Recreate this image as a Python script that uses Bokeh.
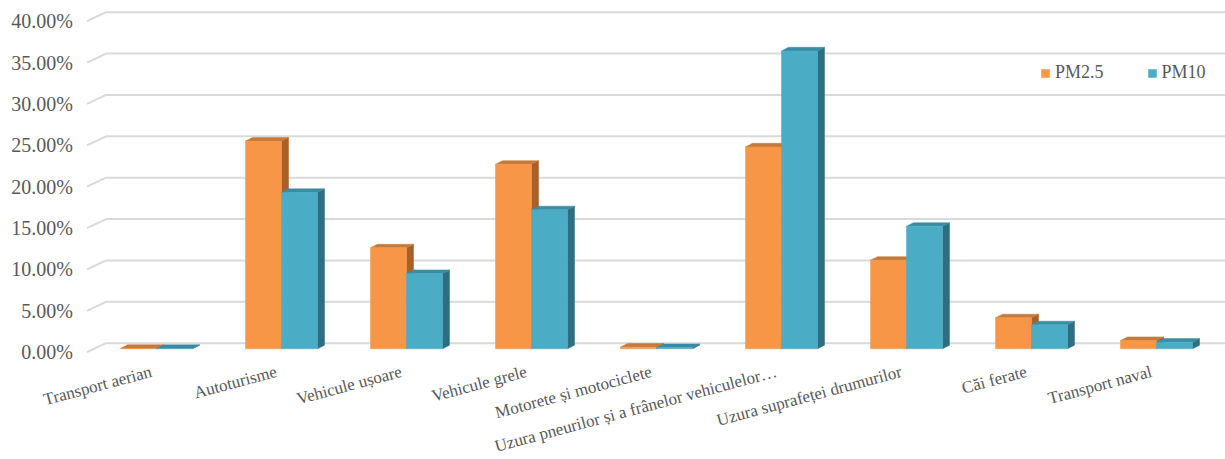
import math
from bokeh.plotting import figure
from bokeh.models import Range1d, Legend, LegendItem
from bokeh.core.properties import value
from bokeh.embed import file_html
from bokeh.resources import INLINE

# ---- data ----
categories = [
    "Transport aerian",
    "Autoturisme",
    "Vehicule ușoare",
    "Vehicule grele",
    "Motorete și motociclete",
    "Uzura pneurilor și a frânelor vehiculelor…",
    "Uzura suprafeței drumurilor",
    "Căi ferate",
    "Transport naval",
]
pm25 = [0.05, 25.1, 12.2, 22.3, 0.2, 24.4, 10.7, 3.75, 1.0]
pm10 = [0.04, 18.9, 9.1, 16.8, 0.15, 36.0, 14.8, 2.9, 0.8]
series_names = ["PM2.5", "PM10"]
y_ticks = [0, 5, 10, 15, 20, 25, 30, 35, 40]
y_tick_labels = ["0.00%", "5.00%", "10.00%", "15.00%", "20.00%", "25.00%", "30.00%", "35.00%", "40.00%"]

# ---- styling / 3D geometry (data units) ----
FONT = "Liberation Serif"
TXT = "#595959"
GRID = "#D9D9D9"
FRONT = ["#F79646", "#4BACC6"]
SIDE = ["#A85F2A", "#2F6E80"]
TOP = ["#C47A3C", "#3A8CA2"]

PX_X = 125.0
PX_Y = 8.275
WALL_DX = 19 / PX_X
WALL_DY = 9 / PX_Y
BAR_OFF_X = 7 / PX_X
BAR_OFF_Y = 3.4 / PX_Y
BAR_DX = 7 / PX_X
BAR_DY = 3.6 / PX_Y
BAR_W = 36 / PX_X
LABEL_DX = 0.015
LABEL_DY = -2.3
LABEL_ANGLE = math.radians(15)
YLAB_GAP = 14 / PX_X

W, H = 1225, 459
AX_LEFT = -0.5                     # left edge of the category band (front plane)
x0 = AX_LEFT - 86.5 / PX_X
y0 = -(H - 351.7) / PX_Y
p = figure(width=W, height=H, output_backend="svg", toolbar_location=None,
           x_range=Range1d(x0, x0 + W / PX_X), y_range=Range1d(y0, y0 + H / PX_Y),
           min_border=0)
p.outline_line_color = None
p.xgrid.visible = False
p.ygrid.visible = False
p.xaxis.visible = False
p.yaxis.visible = False
p.background_fill_color = "white"
p.border_fill_color = "white"

# gridlines: slanted front segment + back wall line
xe = x0 + W / PX_X
n = len(y_ticks)
p.segment(x0=[AX_LEFT] * n, y0=y_ticks,
          x1=[AX_LEFT + WALL_DX] * n, y1=[t + WALL_DY for t in y_ticks],
          line_color=GRID, line_width=2)
p.segment(x0=[AX_LEFT + WALL_DX] * n, y0=[t + WALL_DY for t in y_ticks],
          x1=[xe] * n, y1=[t + WALL_DY for t in y_ticks],
          line_color=GRID, line_width=2)

# value-axis tick labels
p.text(x=[AX_LEFT - YLAB_GAP] * n, y=y_ticks, text=y_tick_labels,
       text_align="right", text_baseline="middle",
       text_font=value(FONT), text_font_size="20px", text_color=TXT)

fronts = []
for s, vals in enumerate([pm25, pm10]):
    lefts = [i + BAR_OFF_X + (s - 1) * BAR_W for i in range(len(categories))]
    rights = [l + BAR_W for l in lefts]
    bots = [BAR_OFF_Y] * len(vals)
    tops = [v + BAR_OFF_Y for v in vals]
    side_xs = [[r, r + BAR_DX, r + BAR_DX, r] for r in rights]
    side_ys = [[b, b + BAR_DY, t + BAR_DY, t] for b, t in zip(bots, tops)]
    top_xs = [[l, l + BAR_DX, r + BAR_DX, r] for l, r in zip(lefts, rights)]
    top_ys = [[t, t + BAR_DY, t + BAR_DY, t] for t in tops]
    p.patches(xs=side_xs, ys=side_ys, fill_color=SIDE[s], line_color=SIDE[s], line_width=0.5)
    p.patches(xs=top_xs, ys=top_ys, fill_color=TOP[s], line_color=TOP[s], line_width=0.5)
    r = p.quad(left=lefts, right=rights, bottom=bots, top=tops,
               fill_color=FRONT[s], line_color=FRONT[s], line_width=0.5)
    fronts.append(r)

# category labels (rotated, right end at each category position)
p.text(x=[i + LABEL_DX for i in range(len(categories))], y=[LABEL_DY] * len(categories),
       text=categories, angle=LABEL_ANGLE, text_align="right", text_baseline="middle",
       text_font=value(FONT), text_font_size="17px", text_color=TXT)

legend = Legend(items=[LegendItem(label=series_names[0], renderers=[fronts[0]]),
                       LegendItem(label=series_names[1], renderers=[fronts[1]])],
                orientation="horizontal", location=(1040, 376),
                glyph_width=10, glyph_height=10, label_standoff=5, spacing=43,
                padding=0, margin=0, border_line_color=None, background_fill_alpha=0,
                label_text_font=FONT, label_text_font_size="18px", label_text_color=TXT)
p.add_layout(legend)

open("out.html", "w").write(file_html(p, INLINE))
